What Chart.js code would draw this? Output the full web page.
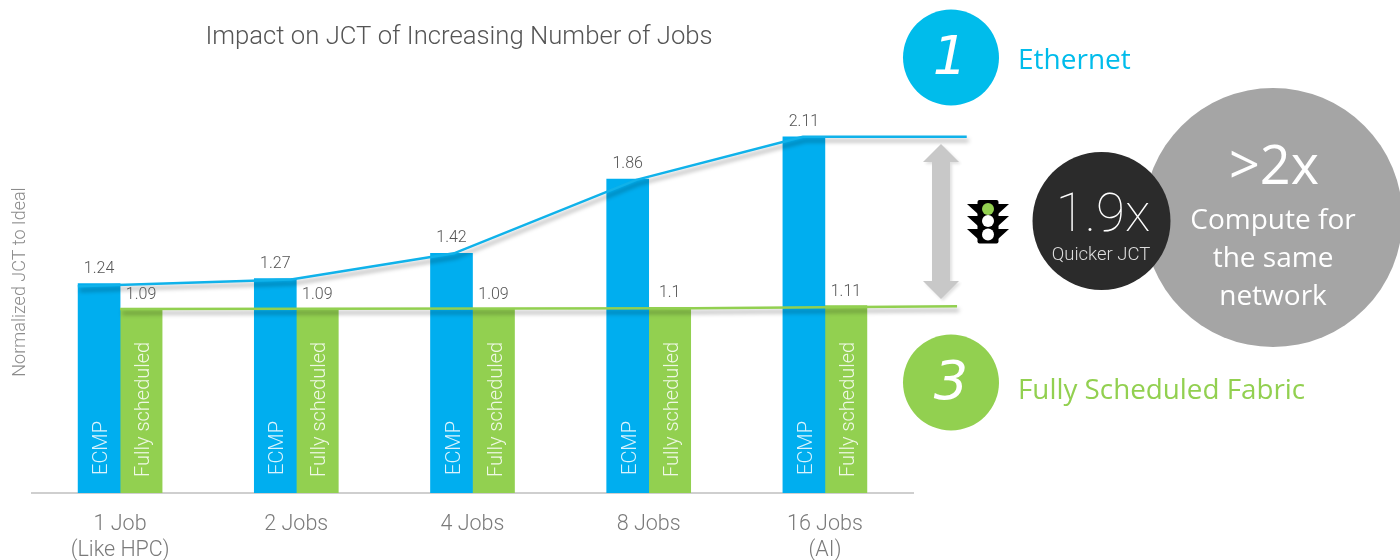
<!DOCTYPE html>
<html>
<head>
<meta charset="utf-8">
<title>Impact on JCT of Increasing Number of Jobs</title>
<script src="https://cdn.jsdelivr.net/npm/chart.js@4"></script>
<style>
  html, body { margin: 0; padding: 0; background: #fff; }
  canvas { display: block; }
</style>
</head>
<body>
<canvas id="jct_chart" width="1400" height="560"></canvas>
<script>
const categories = [['1 Job', '(Like HPC)'], '2 Jobs', '4 Jobs', '8 Jobs', ['16 Jobs', '(AI)']];
const ecmp = [1.24, 1.27, 1.42, 1.86, 2.11];
const scheduled = [1.09, 1.09, 1.09, 1.1, 1.11];

// the hand drawn trend lines don't sit on the bar centres, x is in category units
const ecmpLineX = [-0.24, 0.97, 1.895, 2.93, 3.875, 4.805];
const ecmpLineY = [1.225, 1.265, 1.42, 1.855, 2.11, 2.11];
const scheduledLineX = [0, 3.25, 4.75];
const scheduledLineY = [1.09, 1.095, 1.107];

const BLUE = '#00AEEF';
const GREEN = '#92D050';
const THIN = '"Roboto", sans-serif';
const SANS = '"Open Sans", sans-serif';

function toPoints(xs, ys) {
    return xs.map((x, i) => ({ x: x, y: ys[i] }));
}

function text(ctx, str, x, y, font, color, align) {
    ctx.font = font;
    ctx.fillStyle = color;
    ctx.textAlign = align || 'center';
    ctx.textBaseline = 'middle';
    ctx.fillText(str, x, y);
}

function circle(ctx, x, y, r, color) {
    ctx.fillStyle = color;
    ctx.beginPath();
    ctx.arc(x, y, r, 0, Math.PI * 2);
    ctx.fill();
}

function rotatedLabel(ctx, str, x, y) {
    ctx.save();
    ctx.translate(x, y);
    ctx.rotate(-Math.PI / 2);
    text(ctx, str, 0, 0, '300 20px ' + THIN, 'rgba(255,255,255,0.85)', 'left');
    ctx.restore();
}

function drawArrow(ctx) {
    const x = 941, top = 144, bottom = 299;
    ctx.save();
    ctx.shadowColor = 'rgba(0,0,0,0.12)';
    ctx.shadowOffsetX = 2;
    ctx.shadowOffsetY = 2;
    ctx.shadowBlur = 3;
    ctx.fillStyle = '#C8C8C8';
    ctx.beginPath();
    ctx.moveTo(x, top);
    ctx.lineTo(x + 18, top + 18);
    ctx.lineTo(x + 9, top + 18);
    ctx.lineTo(x + 9, bottom - 18);
    ctx.lineTo(x + 18, bottom - 18);
    ctx.lineTo(x, bottom);
    ctx.lineTo(x - 18, bottom - 18);
    ctx.lineTo(x - 9, bottom - 18);
    ctx.lineTo(x - 9, top + 18);
    ctx.lineTo(x - 18, top + 18);
    ctx.closePath();
    ctx.fill();
    ctx.restore();
}

function drawTrafficLight(ctx) {
    const x = 988;
    ctx.fillStyle = '#000';
    ctx.beginPath();
    ctx.roundRect(x - 10.5, 200, 21, 43.5, 2);
    ctx.fill();
    [204, 216, 229].forEach(y => {
        ctx.beginPath();
        ctx.moveTo(x - 21, y);
        ctx.lineTo(x - 10, y);
        ctx.lineTo(x - 10, y + 10);
        ctx.closePath();
        ctx.moveTo(x + 21, y);
        ctx.lineTo(x + 10, y);
        ctx.lineTo(x + 10, y + 10);
        ctx.closePath();
        ctx.fill();
    });
    circle(ctx, x, 209, 6, GREEN);
    circle(ctx, x, 221, 6, '#fff');
    circle(ctx, x, 234.5, 6, '#fff');
}

const annotations = {
    id: 'annotations',
    afterDatasetsDraw(chart) {
        const ctx = chart.ctx;
        ctx.save();

        // value labels and the rotated names inside the bars
        chart.getDatasetMeta(2).data.forEach((bar, i) => {
            text(ctx, ecmp[i], bar.x, bar.y - 15, '300 16px ' + THIN, '#555');
            rotatedLabel(ctx, 'ECMP', bar.x + 3, 475);
        });
        chart.getDatasetMeta(3).data.forEach((bar, i) => {
            text(ctx, scheduled[i], bar.x, bar.y - 14, '300 16px ' + THIN, '#555');
            rotatedLabel(ctx, 'Fully scheduled', bar.x + 3, 477);
        });

        text(ctx, 'Impact on JCT of Increasing Number of Jobs', 459, 38, '300 25.7px ' + THIN, '#555');

        drawArrow(ctx);
        drawTrafficLight(ctx);

        circle(ctx, 951, 57.5, 48, '#00BCEB');
        text(ctx, '1', 950, 60, 'italic 400 54px "DejaVu Sans"', '#fff');
        text(ctx, 'Ethernet', 1018, 61, '28px ' + SANS, '#00BCEB', 'left');

        circle(ctx, 951, 382.5, 48, GREEN);
        text(ctx, '3', 951, 385, 'italic 400 54px "DejaVu Sans"', '#fff');
        text(ctx, 'Fully Scheduled Fabric', 1018, 391, '27.8px ' + SANS, GREEN, 'left');

        circle(ctx, 1273, 217.5, 129.5, '#A5A5A5');
        circle(ctx, 1101.5, 221, 69, '#2B2B2B');

        text(ctx, '1.9x', 1103, 218, '100 53px ' + THIN, '#fff');
        text(ctx, 'Quicker JCT', 1101, 255, '300 18.5px ' + THIN, '#ddd');

        text(ctx, '>2x', 1274, 169, '400 54px ' + SANS, '#fff');
        text(ctx, 'Compute for', 1273, 221, '28px ' + SANS, '#fff');
        text(ctx, 'the same', 1273, 259, '28px ' + SANS, '#fff');
        text(ctx, 'network', 1273, 297, '28px ' + SANS, '#fff');

        ctx.restore();
    }
};

// soft grey drop shadow under the two trend lines
const lineShadow = {
    id: 'lineShadow',
    beforeDatasetDraw(chart, args) {
        if (args.index > 1) return;
        const ctx = chart.ctx;
        ctx.save();
        ctx.shadowColor = 'rgba(0,0,0,0.35)';
        ctx.shadowOffsetX = 2;
        ctx.shadowOffsetY = 4;
        ctx.shadowBlur = 4;
    },
    afterDatasetDraw(chart, args) {
        if (args.index > 1) return;
        chart.ctx.restore();
    }
};

new Chart(document.getElementById('jct_chart'), {
    type: 'bar',
    data: {
        labels: categories,
        datasets: [
            {
                type: 'line',
                label: 'Ethernet trend',
                data: toPoints(ecmpLineX, ecmpLineY),
                xAxisID: 'trendX',
                borderColor: '#10B2EA',
                borderWidth: 2.5,
                pointRadius: 0,
                tension: 0,
                clip: false,
                order: 1
            },
            {
                type: 'line',
                label: 'Scheduled trend',
                data: toPoints(scheduledLineX, scheduledLineY),
                xAxisID: 'trendX',
                borderColor: GREEN,
                borderWidth: 2.5,
                pointRadius: 0,
                tension: 0,
                clip: false,
                order: 1
            },
            {
                label: 'ECMP',
                data: ecmp,
                backgroundColor: BLUE,
                barThickness: 42,
                order: 2
            },
            {
                label: 'Fully scheduled',
                data: scheduled,
                backgroundColor: GREEN,
                barThickness: 42,
                order: 2
            }
        ]
    },
    options: {
        responsive: false,
        animation: false,
        events: [],
        layout: { padding: { top: 71, right: 487, bottom: 0, left: 0 } },
        plugins: {
            legend: { display: false },
            tooltip: { enabled: false }
        },
        scales: {
            x: {
                grid: { display: false },
                border: { color: '#CFCFCF', width: 2 },
                ticks: {
                    color: '#7A7A7A',
                    font: { family: 'Roboto', weight: '300', size: 21.5 },
                    padding: 11,
                    maxRotation: 0,
                    autoSkip: false
                },
                afterFit(scale) { scale.height = 67; }
            },
            trendX: {
                type: 'linear',
                display: false,
                offset: false,
                min: -0.5,
                max: 4.5
            },
            y: {
                min: 0,
                max: 2.5,
                grid: { display: false },
                border: { display: false },
                ticks: { display: false },
                title: {
                    display: true,
                    text: 'Normalized JCT to Ideal',
                    color: '#8C8C8C',
                    font: { family: 'Roboto', weight: '300', size: 18 },
                    padding: { top: 10, bottom: 0 }
                },
                afterFit(scale) { scale.width = 32; }
            }
        }
    },
    plugins: [lineShadow, annotations]
});
</script>
</body>
</html>
